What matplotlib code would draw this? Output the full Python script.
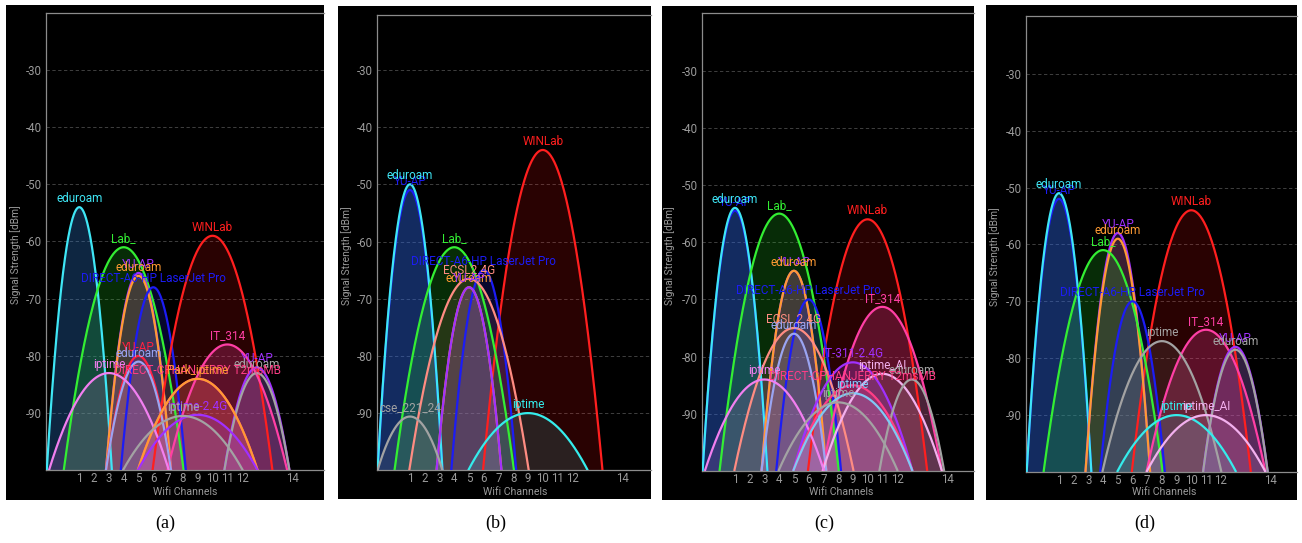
import matplotlib.pyplot as plt
from matplotlib.patches import Rectangle
import numpy as np

W, H = 1302, 543

# x ticks of the analyzer (channel 14 sits 12 MHz past channel 13)
TICK_CHANNELS = [1, 2, 3, 4, 5, 6, 7, 8, 9, 10, 11, 12, 14]
Y_TICKS = [-90, -80, -70, -60, -50, -40, -30]

# ---- panel (a)
A_NAMES = ["eduroam", "Lab_", "YU-AP", "eduroam", "DIRECT-A6-HP LaserJet Pro", "WINLab",
           "IT_314", "YU-AP", "eduroam", "iptime", "YU-AP", "eduroam",
           "DIRECT-CPHANJERRY T2msMB", "Park_iptime", "iptime-2.4G", "iptime"]
A_CHANNELS = [1, 4, 5, 5, 6, 10, 11, 5, 5, 3, 13, 13, 9, 9, 9, 8]
A_LEVELS = [-54, -61, -65.5, -66, -68, -59, -78, -80, -81, -83, -82, -83, -84, -84, -90.3, -90.5]
A_WIDTHS = [20, 40, 20, 20, 20, 40, 40, 20, 20, 40, 20, 20, 40, 40, 40, 40]
A_COLORS = ["cyan", "green", "purple", "orange", "blue", "red", "pink", "red2", "lavender",
            "orchid", "purple", "gray", "hotpink", "orange", "purple", "gray"]

# ---- panel (b)
B_NAMES = ["YU-AP", "eduroam", "WINLab", "Lab_", "DIRECT-A6-HP LaserJet Pro", "ECSL2.4G",
           "eduroam", "YU-AP", "cse_221_24", "iptime"]
B_CHANNELS = [1, 1, 10, 4, 6, 5, 5, 5, 1, 9]
B_LEVELS = [-51, -50, -44, -61, -65, -66.5, -68, -68, -90.6, -90]
B_WIDTHS = [20, 20, 40, 40, 20, 40, 20, 20, 20, 40]
B_COLORS = ["blue", "cyan", "red", "green", "blue", "salmon", "orange", "purple", "gray", "aqua"]

# ---- panel (c)
C_NAMES = ["YU-AP", "eduroam", "Lab_", "WINLab", "YU-AP", "eduroam",
           "DIRECT-A6-HP LaserJet Pro", "IT_314", "ECSL 2.4G", "eduroam", "IT-311-2.4G",
           "iptime_AI", "eduroam", "iptime", "DIRECT-CPHANJERRY T2msMB", "iptime", "iptime"]
C_CHANNELS = [1, 1, 4, 10, 5, 5, 6, 11, 5, 5, 9, 11, 13, 3, 9, 9, 8]
C_LEVELS = [-54.5, -54, -55, -56, -65, -65, -70, -71.3, -75, -76, -81, -83, -84, -84, -85,
            -86.4, -88]
C_WIDTHS = [20, 20, 40, 40, 20, 20, 20, 40, 40, 20, 40, 40, 20, 40, 40, 40, 40]
C_COLORS = ["blue", "cyan", "green", "red", "purple", "orange", "blue", "pink", "salmon",
            "lavender", "purple", "lightpink", "gray", "orchid", "hotpink", "lightblue", "gray"]

# ---- panel (d)
D_NAMES = ["YU-AP", "eduroam", "WINLab", "YU-AP", "eduroam", "Lab_",
           "DIRECT-A6-HP LaserJet Pro", "IT_314", "iptime", "YU-AP", "eduroam",
           "iptime", "iptime_AI"]
D_CHANNELS = [1, 1, 10, 5, 5, 4, 6, 11, 8, 13, 13, 9, 11]
D_LEVELS = [-52, -51, -54, -58, -59, -61, -70, -75, -77, -78, -78.5, -90, -90]
D_WIDTHS = [20, 20, 40, 20, 20, 40, 20, 40, 40, 20, 20, 40, 40]
D_COLORS = ["blue", "cyan", "red", "purple", "orange", "green", "blue", "pink", "gray",
            "purple", "gray", "aqua", "lightpink"]

CAPTIONS = ["(a)", "(b)", "(c)", "(d)"]

LINE = {"cyan": "#3fe6f5", "blue": "#1c1cf5", "green": "#33ee33", "orange": "#ff9a33",
        "red": "#ff1f1f", "red2": "#ff2040", "pink": "#ff3fa5", "purple": "#a030ff",
        "lavender": "#9aa4f2", "orchid": "#f27ff0", "gray": "#a3a3a3", "salmon": "#ff8c82",
        "hotpink": "#ff3d86", "lightblue": "#80c8f5", "lightpink": "#f3b0ee", "aqua": "#35ecec"}
FILL = {"cyan": ("#2f7fd8", .30), "blue": ("#2a2aff", .18), "green": ("#22cc22", .22),
        "orange": ("#ff9a33", .13), "red": ("#ff1010", .165), "red2": ("#ff2040", .16),
        "pink": ("#ff3fa5", .24), "purple": ("#a040ff", .2), "lavender": ("#9aa4f2", .13),
        "orchid": ("#f27ff0", .16), "gray": ("#a3a3a3", .13), "salmon": ("#ff8c82", .12),
        "hotpink": ("#ff3d86", .22), "lightblue": ("#80c8f5", .13), "lightpink": ("#f3b0ee", .14),
        "aqua": ("#35ecec", .13)}

# pixel layout of the four screenshots: black box, plot box, channel-1 x, px per channel, px per dB
LAYOUT = [
    dict(box=(6, 5, 324, 500), plot=(45.7, 12.7, 324, 470.3), ch1=79.3, sp=14.8, db=5.72, ylab=16, xlab=185.5, cap=165),
    dict(box=(338, 6, 651, 499), plot=(376.7, 14.7, 651, 470.3), ch1=410, sp=14.75, db=5.72, ylab=346.7, xlab=515.5, cap=496),
    dict(box=(662, 6, 974, 500), plot=(701.7, 13.3, 974, 471), ch1=735, sp=14.73, db=5.72, ylab=670, xlab=841, cap=824),
    dict(box=(986, 5, 1297, 500), plot=(1025.7, 15.7, 1297, 472), ch1=1059, sp=14.7, db=5.69, ylab=995, xlab=1164, cap=1145),
]

TEXT_GRAY = "#9a9a9a"
APP_FONT = "Roboto"


def chan_pos(ch):
    return 15.4 if ch == 14 else ch


def draw_panel(fig, lay, names, chans, levels, widths, colors, caption):
    x0, y0, x1, y1 = lay["box"]
    fig.add_artist(Rectangle((x0 / W, 1 - y1 / H), (x1 - x0) / W, (y1 - y0) / H,
                             transform=fig.transFigure, facecolor="black", edgecolor="none", zorder=0))
    l, t, r, b = lay["plot"]
    ax = fig.add_axes([l / W, 1 - b / H, (r - l) / W, (b - t) / H])
    ax.set_facecolor("black")
    ax.set_xlim(1 - (lay["ch1"] - l) / lay["sp"], 1 + (r - lay["ch1"]) / lay["sp"])
    ax.set_ylim(-100, -100 + (b - t) / lay["db"])

    for ch, lev, wd, col in zip(chans, levels, widths, colors):
        c = chan_pos(ch)
        hw = 2.2 if wd == 20 else 4.05
        xs = np.linspace(c - hw, c + hw, 200)
        ys = lev - (lev + 100) * ((xs - c) / hw) ** 2
        fc, fa = FILL[col]
        ax.fill_between(xs, ys, -100, color=fc, alpha=fa, lw=0, zorder=2)
        ax.plot(xs, ys, color=LINE[col], lw=1.6, zorder=3, solid_capstyle="butt")
    for name, ch, lev, col in zip(names, chans, levels, colors):
        ax.text(chan_pos(ch), lev + 1.5, name, color=LINE[col], fontsize=8.5, family=APP_FONT,
                ha="center", va="center", zorder=5)

    ax.set_yticks(Y_TICKS)
    ax.set_yticklabels([str(v) for v in Y_TICKS])
    ax.set_xticks([chan_pos(c) for c in TICK_CHANNELS])
    ax.set_xticklabels([str(c) for c in TICK_CHANNELS])
    ax.tick_params(length=0, colors=TEXT_GRAY, labelsize=8.3)
    ax.tick_params(axis="y", pad=2.5)
    ax.tick_params(axis="x", pad=1.5)
    for lab in ax.get_xticklabels() + ax.get_yticklabels():
        lab.set_family(APP_FONT)
    ax.grid(axis="y", color="#4a4a4a", lw=0.6, ls=(0, (4, 3)))
    ax.set_axisbelow(True)
    for side in ("left", "bottom", "top"):
        ax.spines[side].set_color("#8c8c8c")
        ax.spines[side].set_linewidth(0.9)
    ax.spines["right"].set_visible(False)

    fig.text(lay["ylab"] / W, 1 - ((t + b) / 2 + 13) / H, "Signal Strength [dBm]", rotation=90,
             ha="center", va="center", color=TEXT_GRAY, fontsize=7.4, family=APP_FONT)
    fig.text(lay["xlab"] / W, 1 - 492 / H, "Wifi Channels", ha="center", va="center",
             color=TEXT_GRAY, fontsize=7.6, family=APP_FONT)
    fig.text(lay["cap"] / W, 1 - 523 / H, caption, ha="center", va="center",
             color="black", fontsize=13, family="Liberation Serif")


fig = plt.figure(figsize=(W / 100, H / 100), dpi=100)
fig.patch.set_facecolor("white")

data = [
    (A_NAMES, A_CHANNELS, A_LEVELS, A_WIDTHS, A_COLORS),
    (B_NAMES, B_CHANNELS, B_LEVELS, B_WIDTHS, B_COLORS),
    (C_NAMES, C_CHANNELS, C_LEVELS, C_WIDTHS, C_COLORS),
    (D_NAMES, D_CHANNELS, D_LEVELS, D_WIDTHS, D_COLORS),
]
for lay, d, cap in zip(LAYOUT, data, CAPTIONS):
    draw_panel(fig, lay, *d, cap)

fig.savefig("out.png", dpi=100, facecolor="white")
